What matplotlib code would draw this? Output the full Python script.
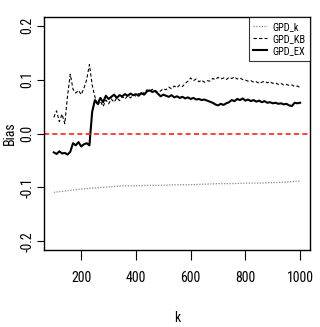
import numpy as np
import matplotlib
matplotlib.use("Agg")
import matplotlib.pyplot as plt

plt.rcParams['font.family'] = ['Liberation Sans Narrow', 'Nimbus Sans Narrow', 'Arial Narrow',
                               'Roboto Condensed', 'Sofia Sans Semi Condensed', 'DejaVu Sans']

k_step10 = list(range(100, 1001, 10))
k_step50 = list(range(100, 1001, 50))

gpd_ex = [
    -0.035, -0.038, -0.033, -0.037, -0.036, -0.039, -0.034, -0.018, -0.022, -0.016,   # 100-190
    -0.024, -0.020, -0.018, -0.022, 0.040, 0.062, 0.055, 0.066, 0.058, 0.070,         # 200-290
    0.064, 0.068, 0.072, 0.066, 0.071, 0.069, 0.073, 0.070, 0.074, 0.071,             # 300-390
    0.073, 0.070, 0.075, 0.072, 0.078, 0.080, 0.077, 0.079, 0.074, 0.069,             # 400-490
    0.072, 0.070, 0.068, 0.071, 0.067, 0.069, 0.066, 0.068, 0.065, 0.067,             # 500-590
    0.064, 0.066, 0.063, 0.064, 0.062, 0.063, 0.061, 0.059, 0.057, 0.054,             # 600-690
    0.052, 0.055, 0.053, 0.056, 0.058, 0.062, 0.060, 0.064, 0.062, 0.065,             # 700-790
    0.061, 0.063, 0.060, 0.062, 0.059, 0.061, 0.058, 0.060, 0.057, 0.058,             # 800-890
    0.056, 0.057, 0.055, 0.056, 0.054, 0.055, 0.052, 0.051, 0.057, 0.056,             # 900-990
    0.057,                                                                           # 1000
]

gpd_kb = [
    0.030, 0.042, 0.022, 0.036, 0.018, 0.070, 0.110, 0.082, 0.075, 0.080,             # 100-190
    0.072, 0.084, 0.100, 0.128, 0.090, 0.068, 0.052, 0.060, 0.050, 0.062,             # 200-290
    0.055, 0.064, 0.058, 0.066, 0.061, 0.068, 0.064, 0.070, 0.066, 0.072,             # 300-390
    0.069, 0.074, 0.071, 0.076, 0.081, 0.078, 0.082, 0.080, 0.076, 0.079,             # 400-490
    0.083, 0.081, 0.086, 0.083, 0.088, 0.085, 0.090, 0.087, 0.093, 0.097,             # 500-590
    0.103, 0.098, 0.101, 0.096, 0.099, 0.095, 0.098, 0.097, 0.102, 0.100,             # 600-690
    0.104, 0.101, 0.103, 0.100, 0.104, 0.102, 0.105, 0.101, 0.103, 0.100,             # 700-790
    0.099, 0.097, 0.098, 0.095, 0.096, 0.093, 0.095, 0.097, 0.094, 0.096,             # 800-890
    0.093, 0.094, 0.091, 0.093, 0.090, 0.091, 0.089, 0.090, 0.087, 0.088,             # 900-990
    0.085,                                                                           # 1000
]

gpd_k = [
    -0.109, -0.106, -0.103, -0.101, -0.099, -0.097, -0.097, -0.096, -0.096, -0.095,
    -0.095, -0.094, -0.093, -0.093, -0.092, -0.092, -0.091, -0.090, -0.088,
]

x_ticks = [200, 400, 600, 800, 1000]
y_ticks = [-0.2, -0.1, 0.0, 0.1, 0.2]

fig = plt.figure(figsize=(3.2, 3.27), dpi=100)
ax = fig.add_axes([44/320, 1-250/327, (310-44)/320, (250-17)/327])

ax.plot(k_step50, gpd_k, color='#888888', lw=0.9, ls=(0, (1, 1.2)), label='GPD_k')
ax.plot(k_step10, gpd_kb, color='black', lw=0.8, ls=(0, (3, 2)), label='GPD_KB')
ax.plot(k_step10, gpd_ex, color='black', lw=1.5, ls='-', label='GPD_EX')
ax.axhline(0.0, color='#ff2020', lw=1.2, ls=(0, (3, 2)))

ax.set_xlim(64, 1036)
ax.set_ylim(-0.216, 0.216)
ax.set_xticks(x_ticks)
ax.set_xticklabels([str(v) for v in x_ticks])
ax.set_yticks(y_ticks)
ax.set_yticklabels([f"{v:.1f}" for v in y_ticks], rotation=90, va='center')
ax.tick_params(axis='x', length=7, width=0.8, pad=8, labelsize=10)
ax.tick_params(axis='y', length=5, width=0.8, pad=2, labelsize=10)
for s in ax.spines.values():
    s.set_linewidth(1.0)
    s.set_color('black')

ax.set_xlabel('k', fontsize=10)
ax.xaxis.set_label_coords(0.5, -0.262)
ax.set_ylabel('Bias', fontsize=10, va='center')
ax.yaxis.set_label_coords(-0.128, 0.5)

leg = ax.legend(loc='upper right', fontsize=7.5, frameon=True, fancybox=False,
                edgecolor='black', borderaxespad=0, handlelength=1.3,
                labelspacing=0.2, handletextpad=0.5, borderpad=0.45)
leg.get_frame().set_linewidth(0.8)

fig.savefig('out.png', dpi=100)
